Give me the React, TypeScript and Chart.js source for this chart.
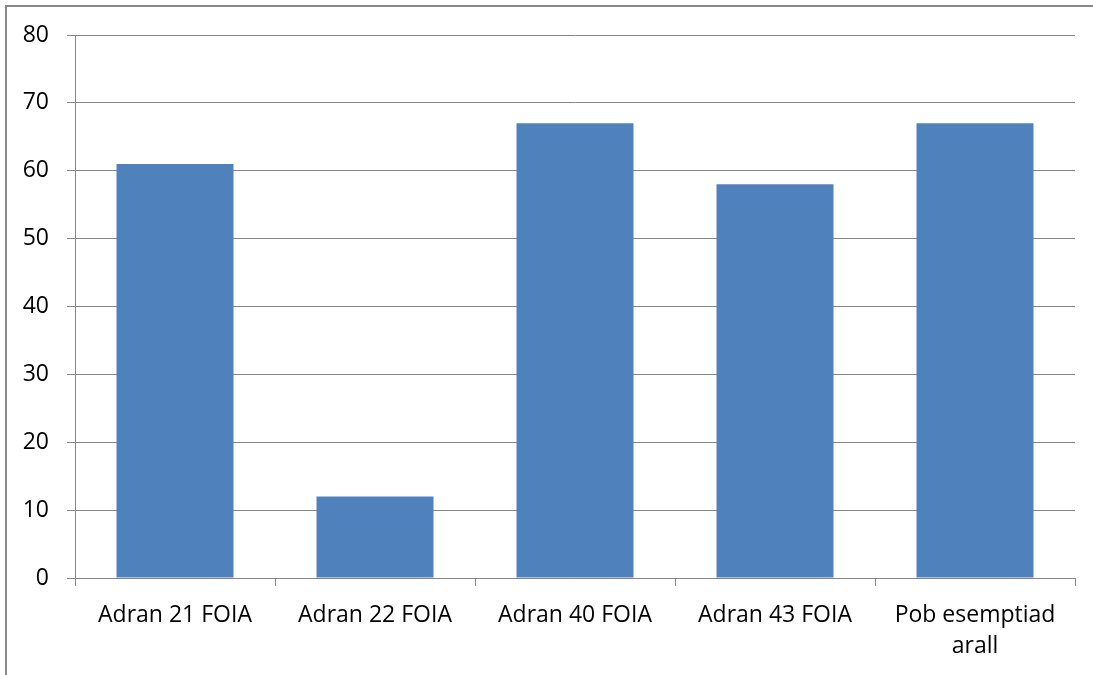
import React, { useEffect, useRef } from "react";
import { Chart, registerables } from "chart.js";

Chart.register(...registerables);

const categories: (string | string[])[] = [
  "Adran 21 FOIA",
  "Adran 22 FOIA",
  "Adran 40 FOIA",
  "Adran 43 FOIA",
  ["Pob esemptiad", "arall"],
];
const values: number[] = [61, 12, 67, 58, 67];
const yTicks: number[] = [0, 10, 20, 30, 40, 50, 60, 70, 80];

const frame = {
  id: "frame",
  beforeDraw(chart: any) {
    const ctx = chart.ctx;
    ctx.save();
    ctx.fillStyle = "#ffffff";
    ctx.fillRect(0, 0, chart.width, chart.height);
    ctx.strokeStyle = "#8a8a8a";
    ctx.lineWidth = 2;
    ctx.strokeRect(6, 6, chart.width + 50, chart.height + 50);
    ctx.restore();
  },
};

export default function App() {
  const ref = useRef<HTMLCanvasElement | null>(null);
  useEffect(() => {
    if (!ref.current) return;
    const font = { family: "'Open Sans', sans-serif", size: 23, lineHeight: 1.35 };
    const chart = new Chart(ref.current, {
      type: "bar",
      data: {
        labels: categories as any,
        datasets: [
          {
            data: values,
            backgroundColor: "#4F81BD",
            borderWidth: 0,
            categoryPercentage: 1,
            barPercentage: 0.585,
          },
        ],
      },
      plugins: [frame],
      options: {
        responsive: false,
        animation: false,
        layout: { padding: { left: 0, top: 35, right: 18, bottom: 0 } },
        plugins: { legend: { display: false }, tooltip: { enabled: false } },
        scales: {
          x: {
            grid: {
              offset: true,
              drawOnChartArea: false,
              drawTicks: true,
              tickLength: 8,
              color: "#868686",
              lineWidth: 1,
            },
            border: { color: "#868686", width: 1 },
            ticks: { color: "#000000", font, padding: 14, maxRotation: 0, autoSkip: false },
            afterFit: (s: any) => {
              s.height = 97;
            },
          },
          y: {
            min: 0,
            max: 80,
            afterBuildTicks: (s: any) => {
              s.ticks = yTicks.map((v) => ({ value: v }));
            },
            grid: { color: "#868686", lineWidth: 1, tickLength: 8, drawTicks: true },
            border: { color: "#868686", width: 1 },
            ticks: { color: "#000000", font, padding: 18 },
            afterFit: (s: any) => {
              s.width = 75;
            },
          },
        },
      },
    });
    return () => chart.destroy();
  }, []);
  return (
    <div style={{ position: "fixed", left: 0, top: 0, width: 1093, height: 675, background: "#fff" }}>
      <canvas ref={ref} width={1093} height={675} style={{ display: "block" }} />
    </div>
  );
}
